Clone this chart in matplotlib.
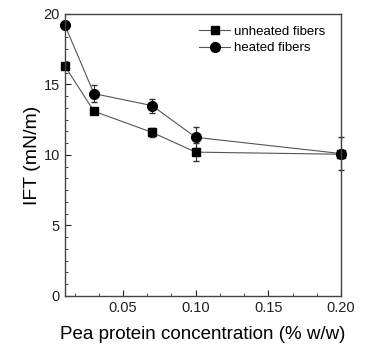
import matplotlib
matplotlib.use("Agg")
import matplotlib.pyplot as plt
from matplotlib.lines import Line2D
from matplotlib.ticker import AutoMinorLocator, MultipleLocator, FormatStrFormatter

plt.rcParams['font.family'] = ['Liberation Sans', 'DejaVu Sans']

conc = [0.01, 0.03, 0.07, 0.10, 0.20]
unheated = [16.3, 13.1, 11.6, 10.2, 10.05]
unheated_err = [0.2, 0.2, 0.3, 0.65, 0.3]
heated = [19.2, 14.35, 13.5, 11.25, 10.1]
heated_err = [0.3, 0.6, 0.5, 0.75, 1.2]

fig = plt.figure(figsize=(3.71, 3.49), dpi=100)
ax = fig.add_axes([0.175, 0.152, 0.744, 0.808])

styles = [dict(marker='s', ms=6), dict(marker='o', ms=7)]
handles = []
for ys, es, st, lab in [(unheated, unheated_err, styles[0], 'unheated fibers'),
                        (heated, heated_err, styles[1], 'heated fibers')]:
    cont = ax.errorbar(conc, ys, yerr=es, color='#555555', lw=0.8,
                       mfc='black', mec='black', ecolor='#333333',
                       elinewidth=0.8, capsize=2, **st)
    for art in cont.get_children():
        art.set_clip_on(False)
    handles.append(Line2D([], [], color='#555555', lw=0.8, mfc='black', mec='black',
                          label=lab, **st))

ax.set_xlim(0.01, 0.20)
ax.set_ylim(0, 20)
ax.xaxis.set_major_locator(MultipleLocator(0.05))
ax.xaxis.set_major_formatter(FormatStrFormatter('%.2f'))
ax.xaxis.set_minor_locator(AutoMinorLocator(3))
ax.yaxis.set_major_locator(MultipleLocator(5))
ax.yaxis.set_minor_locator(AutoMinorLocator(6))
ax.tick_params(which='both', direction='in', top=False, right=False, labelsize=10.5, colors='#222222')
ax.tick_params(which='major', length=4)
ax.tick_params(which='minor', length=2.5)
for s in ax.spines.values():
    s.set_color('#444444')
    s.set_linewidth(1.0)

ax.set_xlabel('Pea protein concentration (% w/w)', fontsize=13.5, labelpad=8)
ax.set_ylabel('IFT (mN/m)', fontsize=14, labelpad=2)

ax.legend(handles=handles, loc='upper right', frameon=False, fontsize=9.5, handlelength=2.3,
          handletextpad=0.3, borderaxespad=0.5, labelspacing=0.3,
          bbox_to_anchor=(0.985, 1.0))

fig.savefig('out.png', dpi=100)
